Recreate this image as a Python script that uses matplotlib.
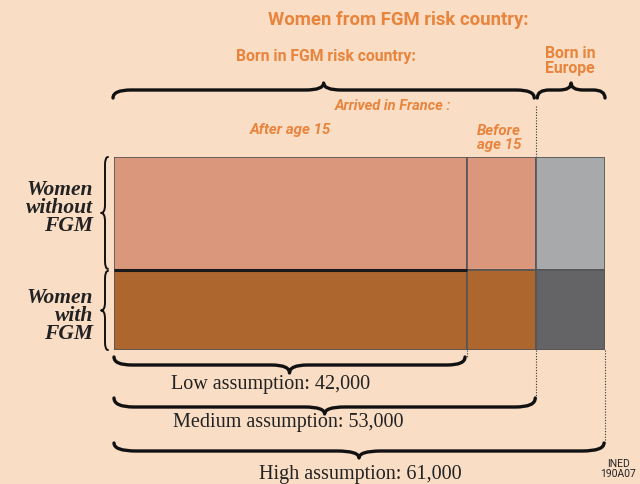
import matplotlib
matplotlib.use("Agg")
import matplotlib.pyplot as plt
import numpy as np
from matplotlib.path import Path
from matplotlib.patches import PathPatch

# column shares (% of the high assumption total)
columns = ["After age 15", "Before age 15", "Born in Europe"]
col_share = [71.9, 14.1, 14.0]
# row shares (% of women)
rows = ["Women\nwithout\nFGM", "Women\nwith\nFGM"]
row_share = [58.5, 41.5]
assumptions = ["Low assumption: 42,000", "Medium assumption: 53,000", "High assumption: 61,000"]

colors = [["#DB977C", "#DB977C", "#A8A9AB"],
          ["#AE662F", "#AE662F", "#646466"]]

BG = "#F9DDC5"
ORANGE = "#E8843C"
INK = "#222222"
NARROW = ["Roboto", "DejaVu Sans"]

W, H = 640, 484
fig = plt.figure(figsize=(6.4, 4.84), dpi=100, facecolor=BG)

# overlay in pixel coordinates for labels and braces
ov = fig.add_axes([0, 0, 1, 1], zorder=0)
ov.set_xlim(0, W)
ov.set_ylim(H, 0)
ov.axis("off")

# bar block
bx0, bx1, by0, by1 = 114, 605, 157, 350
ax = fig.add_axes([bx0 / W, 1 - by1 / H, (bx1 - bx0) / W, (by1 - by0) / H], zorder=1)
ax.set_xlim(0, sum(col_share))
ax.set_ylim(sum(row_share), 0)
ax.axis("off")

left = np.concatenate([[0], np.cumsum(col_share)[:-1]])
top = np.concatenate([[0], np.cumsum(row_share)[:-1]])
for i, rs in enumerate(row_share):
    ax.bar(left, [rs] * len(col_share), width=col_share, bottom=top[i], align="edge",
           color=colors[i], edgecolor="#555555", linewidth=1.2)
# darker line between the two rows
ax.plot([0, left[1]], [row_share[0], row_share[0]], color="#1a1a1a", lw=2.2, solid_capstyle="butt")


def to_px(xv, yv):
    p = ax.transData.transform((xv, yv))
    return ov.transData.inverted().transform(p)


edges_x = [to_px(v, 0)[0] for v in np.concatenate([[0], np.cumsum(col_share)])]
edges_y = [to_px(0, v)[1] for v in np.concatenate([[0], np.cumsum(row_share)])]


def brace(a, b, base, h1, h2, r, vertical=False, lw=2.4):
    m = (a + b) / 2
    pts = [(a, base), (a, base + h1), (a + r, base + h1),
           (m - r, base + h1),
           (m, base + h1), (m, base + h2),
           (m, base + h1), (m + r, base + h1),
           (b - r, base + h1),
           (b, base + h1), (b, base)]
    codes = [Path.MOVETO, Path.CURVE3, Path.CURVE3, Path.LINETO,
             Path.CURVE3, Path.CURVE3, Path.CURVE3, Path.CURVE3,
             Path.LINETO, Path.CURVE3, Path.CURVE3]
    if vertical:
        pts = [(v, u) for u, v in pts]
    ov.add_patch(PathPatch(Path(pts, codes), fill=False, lw=lw, ec="#111111",
                           capstyle="round", joinstyle="round"))


# top braces
brace(edges_x[0] - 1, edges_x[2] - 2, 98, -8, -15, 18)
brace(edges_x[2] + 1, edges_x[3], 98, -8, -15, 12)
# left braces
brace(edges_y[0], edges_y[1] - 1, 108, -3, -7, 8, vertical=True, lw=1.4)
brace(edges_y[1] + 1, edges_y[2], 108, -3, -7, 8, vertical=True, lw=1.4)
# bottom braces
brace(edges_x[0], edges_x[1] - 2, 357, 8, 16, 18)
brace(edges_x[0], edges_x[2] - 1, 398, 9, 16, 20)
brace(edges_x[0], edges_x[3] - 1, 443, 8, 15, 22)

# dotted guide lines
dot = dict(color="#333333", lw=0.8, ls=(0, (1, 1.5)))
ov.plot([edges_x[2], edges_x[2]], [106, by0], **dot)
ov.plot([edges_x[2], edges_x[2]], [by1, 398], **dot)
ov.plot([edges_x[1], edges_x[1]], [by1, 357], **dot)
ov.plot([edges_x[3], edges_x[3]], [by1, 443], **dot)

# orange headers
hfont = dict(family=NARROW, color=ORANGE, fontweight="bold", ha="center", va="center")
ov.text(398, 20, "Women from FGM risk country:", fontsize=13.3, **hfont)
ov.text(326, 57, "Born in FGM risk country:", fontsize=11.3, **hfont)
ov.text(570, 61, "Born in\nEurope", fontsize=11.3, linespacing=1.0, **hfont)
ov.text(393, 106, "Arrived in France :", fontsize=10.5, style="italic", **hfont)
ov.text(290, 130, columns[0], fontsize=10.8, style="italic", **hfont)
ov.text(499, 138, "Before\nage 15", fontsize=10.8, style="italic", linespacing=1.0, **hfont)

# row labels
for i, lab in enumerate(rows):
    ov.text(93, [208, 316][i], lab, fontsize=15.5, family="Liberation Serif", fontweight="bold",
            style="italic", color=INK, ha="right", va="center", linespacing=0.86)

# assumption labels
sfont = dict(family="Liberation Serif", fontsize=14.5, color=INK, ha="center", va="center")
ov.text(271, 384, assumptions[0], **sfont)
ov.text(288, 423, assumptions[1], **sfont)
ov.text(360, 475, assumptions[2], **sfont)

ov.text(618, 469, "INED\n190A07", fontsize=7.5, family=NARROW,
        color=INK, ha="center", va="center", linespacing=0.95)

fig.savefig("out.png", dpi=100, facecolor=BG)
